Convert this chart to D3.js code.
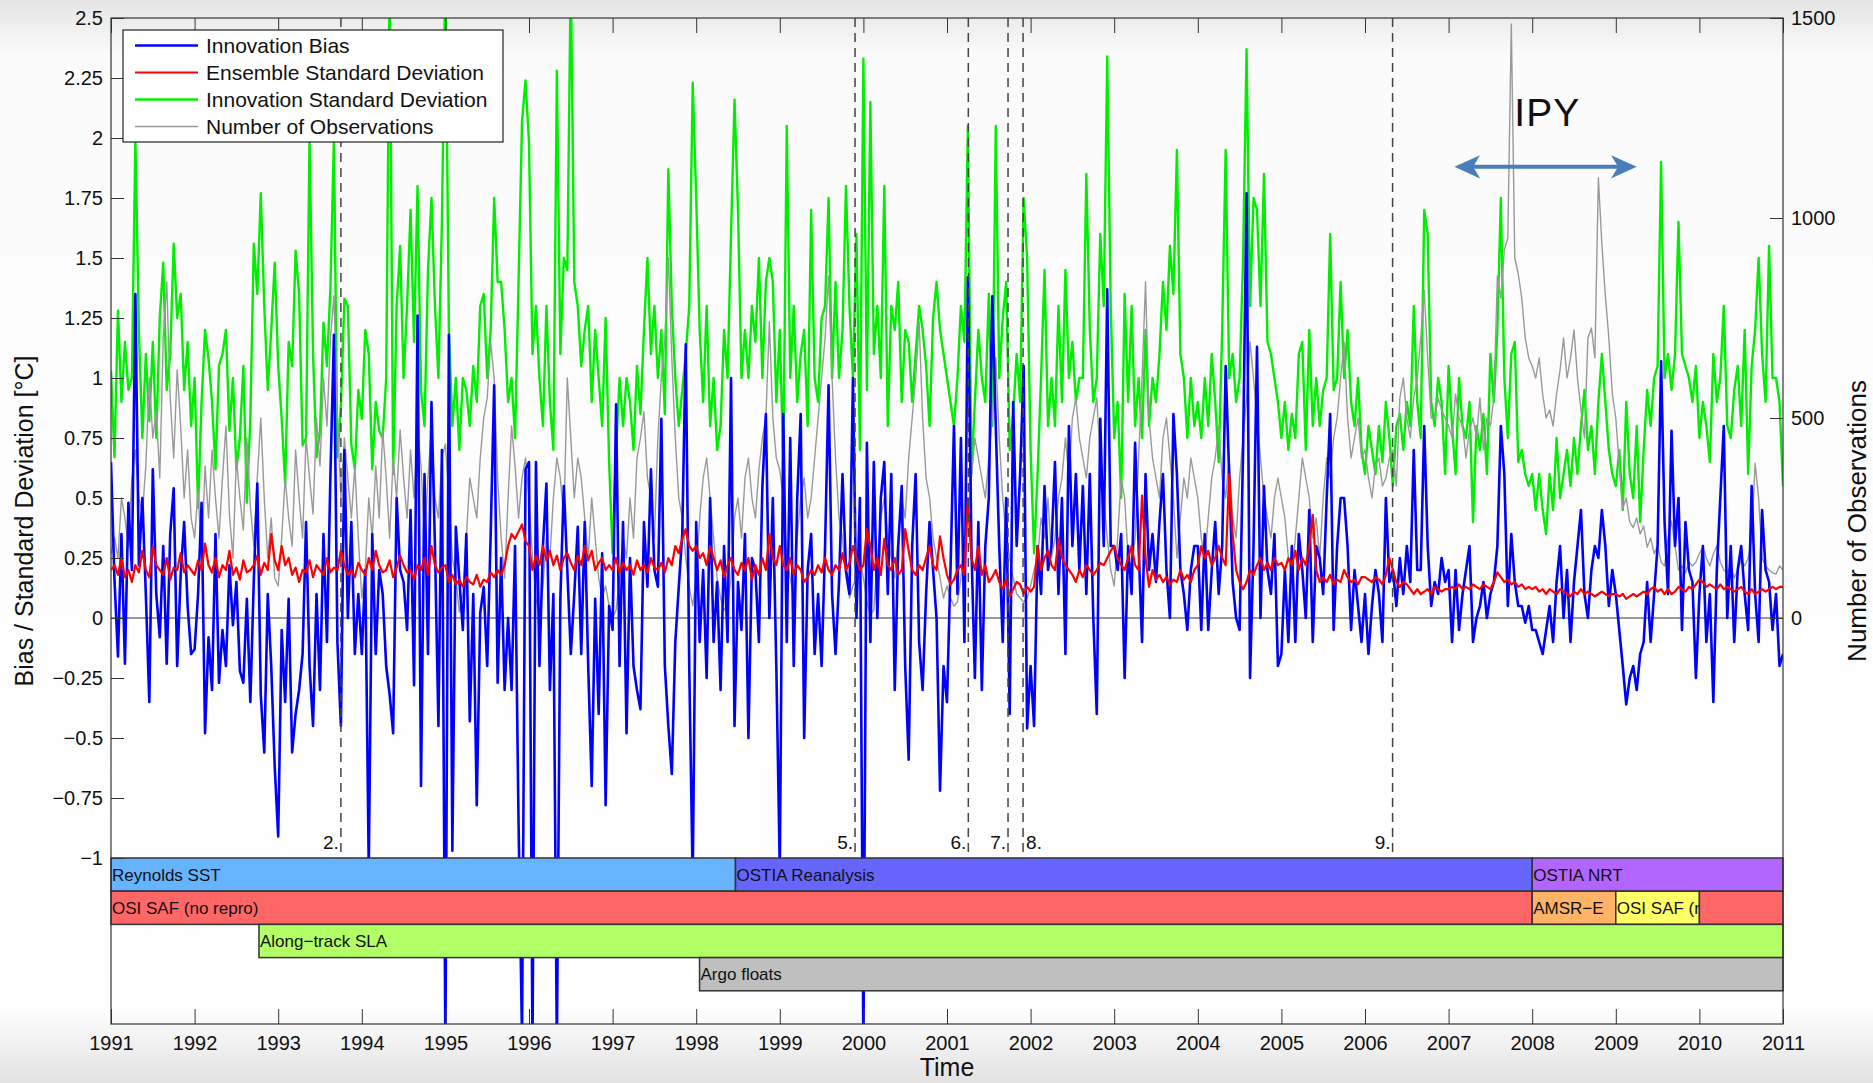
<!DOCTYPE html>
<meta charset="utf-8">
<style>
  body { margin: 0; }
  svg text { font-family: "Liberation Sans", Arial, sans-serif; fill: #111; }
</style>
<svg width="1873" height="1083"></svg>
<script src="https://cdnjs.cloudflare.com/ajax/libs/d3/7.8.5/d3.min.js"></script>
<script>

// samples every half month, from 1991.0 to 2011.0
var startYear = 1991, perYear = 24;

var bias = [
  0.65,0.16,-0.16,0.35,-0.19,0.48,0.2,1.35,0.22,0.5,0.1,-0.35,0.62,0.1,-0.08,0.3,-0.19,0.35,0.54,-0.2,0.18,0.4,0.05,-0.15,
  -0.13,0.1,0.48,-0.48,-0.08,-0.3,0.35,-0.27,-0.05,-0.2,0.22,-0.03,0.15,-0.22,-0.27,0.08,-0.35,0.16,0.56,-0.32,-0.56,0.1,-0.2,-0.62,
  -0.91,-0.05,-0.35,0.08,-0.56,-0.4,-0.3,-0.15,0.4,-0.2,-0.45,0.1,-0.3,0.35,-0.1,0.6,1.18,-0.1,-0.45,0.7,0.0,0.4,-0.15,0.1,
  -0.15,0.2,-1.05,0.35,-0.15,0.2,0.1,-0.2,-0.32,-0.48,0.5,0.2,0.15,-0.05,0.45,-0.28,1.26,-0.7,0.6,-0.15,0.9,0.3,-0.45,0.7,
  -1.8,1.18,-0.97,0.38,0.16,-0.05,0.35,-0.43,0.1,-0.78,0.02,0.13,-0.2,0.35,0.97,-0.27,0.25,-0.3,0.0,-0.3,0.3,-0.85,-1.75,0.62,
  0.65,-1.8,0.65,-0.2,0.3,0.56,-0.3,0.1,-1.8,0.08,0.55,0.2,-0.15,0.1,0.38,-0.15,0.4,-0.2,-0.7,0.08,-0.4,0.27,-0.78,0.05,
  -0.05,0.89,-0.2,0.4,-0.48,0.25,-0.2,-0.3,-0.38,0.4,0.13,0.62,0.2,0.13,0.83,-0.2,-0.45,-0.65,-0.1,0.13,0.35,1.14,-0.2,-1.1,
  0.4,-0.1,0.2,-0.25,0.5,-0.1,0.15,-0.3,0.3,-0.1,1.0,-0.45,0.15,-0.05,0.35,-0.5,0.25,0.2,-0.1,0.55,0.85,0.0,0.5,-0.2,
  -1.05,0.85,-0.1,0.75,-0.2,0.5,0.85,-0.5,0.2,0.35,-0.15,0.1,-0.2,0.3,0.97,0.1,-0.15,0.15,0.6,0.2,0.1,1.0,0.0,0.5,
  -1.8,0.73,-0.1,0.65,0.0,0.5,0.65,0.1,0.6,-0.3,0.3,0.55,-0.2,-0.59,0.3,0.6,-0.1,-0.3,0.1,0.4,0.2,0.0,-0.72,-0.2,
  -0.35,0.2,0.8,0.1,0.75,-0.1,1.42,0.3,-0.25,0.4,-0.3,0.3,0.5,1.34,0.8,0.3,-0.1,0.5,-0.4,0.9,0.3,0.6,1.05,-0.46,
  -0.2,-0.45,0.3,0.1,0.55,0.2,0.3,0.65,0.1,0.5,-0.15,0.8,0.3,0.6,0.2,0.55,0.1,0.6,0.0,-0.4,0.83,0.3,1.37,0.3,
  0.3,0.2,0.35,-0.25,0.3,0.1,0.73,0.3,-0.1,0.6,0.2,0.35,0.15,0.4,0.6,0.2,0.0,0.85,0.6,0.2,0.1,-0.05,0.2,0.3,
  0.3,-0.05,0.35,-0.05,0.2,0.4,0.1,0.3,1.05,0.6,0.15,0.0,-0.05,0.7,1.77,-0.25,0.3,1.13,0.0,0.55,0.2,0.1,0.35,-0.2,
  -0.15,0.2,-0.1,0.3,-0.1,0.35,0.2,0.0,0.45,-0.1,0.3,0.25,0.1,0.5,0.85,-0.05,0.3,0.5,0.5,0.3,-0.05,0.2,0.05,-0.1,
  0.1,-0.15,0.05,0.2,0.1,-0.1,0.5,0.15,0.2,0.05,0.25,0.1,0.3,0.15,0.7,0.2,0.2,0.8,0.3,0.05,0.15,0.1,0.25,0.15,
  0.2,-0.1,0.2,-0.05,0.1,0.2,0.3,-0.1,0.0,0.05,0.15,0.0,0.1,0.15,0.3,0.8,0.6,0.05,0.35,0.15,0.05,0.05,-0.02,0.05,
  -0.05,-0.05,-0.1,-0.15,-0.05,0.05,-0.1,0.15,0.3,0.0,0.2,-0.1,0.15,0.3,0.45,0.1,0.0,0.2,0.3,0.25,0.45,0.3,0.05,0.2,
  0.1,-0.05,-0.2,-0.36,-0.25,-0.2,-0.3,-0.15,-0.1,0.15,-0.1,0.1,0.3,1.07,0.4,0.1,0.78,0.3,0.5,-0.05,0.4,0.2,0.15,-0.25,
  0.1,0.3,-0.1,0.1,-0.35,0.2,0.5,0.8,0.0,0.3,-0.1,0.2,0.3,0.1,-0.05,0.55,0.1,-0.1,0.45,0.2,0.15,-0.05,0.1,-0.2,
  -0.15
];

var ensembleSd = [
  0.2,0.22,0.18,0.25,0.17,0.2,0.15,0.22,0.19,0.28,0.2,0.17,0.3,0.22,0.2,0.18,0.25,0.16,0.21,0.2,0.27,0.19,0.22,0.2,
  0.18,0.24,0.2,0.31,0.22,0.19,0.25,0.17,0.22,0.2,0.28,0.18,0.21,0.16,0.24,0.19,0.2,0.22,0.26,0.18,0.23,0.2,0.35,0.24,
  0.2,0.3,0.22,0.25,0.18,0.21,0.15,0.2,0.19,0.24,0.17,0.22,0.2,0.18,0.25,0.19,0.21,0.2,0.28,0.22,0.18,0.2,0.17,0.23,
  0.2,0.18,0.25,0.2,0.28,0.22,0.19,0.2,0.24,0.17,0.21,0.26,0.22,0.19,0.2,0.16,0.22,0.2,0.25,0.18,0.3,0.22,0.19,0.21,
  0.22,0.15,0.18,0.14,0.16,0.13,0.17,0.15,0.14,0.18,0.13,0.16,0.15,0.19,0.17,0.2,0.18,0.22,0.3,0.35,0.33,0.36,0.39,0.32,
  0.3,0.2,0.26,0.22,0.3,0.24,0.28,0.22,0.26,0.2,0.25,0.27,0.23,0.2,0.26,0.22,0.3,0.24,0.28,0.2,0.23,0.25,0.2,0.22,
  0.2,0.25,0.19,0.23,0.2,0.22,0.18,0.24,0.2,0.22,0.19,0.25,0.21,0.2,0.23,0.19,0.25,0.22,0.3,0.27,0.33,0.37,0.3,0.28,
  0.3,0.25,0.27,0.22,0.3,0.25,0.2,0.24,0.17,0.22,0.25,0.2,0.18,0.23,0.2,0.25,0.16,0.22,0.18,0.25,0.2,0.35,0.25,0.22,
  0.3,0.22,0.2,0.25,0.18,0.22,0.2,0.15,0.17,0.2,0.18,0.22,0.19,0.25,0.2,0.18,0.22,0.2,0.27,0.2,0.23,0.3,0.25,0.2,
  0.22,0.37,0.3,0.2,0.25,0.18,0.33,0.22,0.2,0.25,0.18,0.2,0.37,0.28,0.2,0.18,0.22,0.2,0.25,0.3,0.22,0.2,0.34,0.25,
  0.18,0.14,0.16,0.2,0.22,0.18,0.5,0.25,0.2,0.3,0.18,0.22,0.15,0.17,0.2,0.15,0.12,0.16,0.09,0.12,0.15,0.14,0.1,0.13,
  0.11,0.13,0.3,0.2,0.25,0.28,0.22,0.2,0.33,0.25,0.22,0.2,0.18,0.15,0.2,0.17,0.22,0.2,0.18,0.2,0.23,0.22,0.25,0.28,
  0.3,0.25,0.22,0.2,0.25,0.3,0.22,0.2,0.51,0.25,0.13,0.2,0.16,0.18,0.15,0.17,0.14,0.16,0.15,0.2,0.16,0.18,0.15,0.2,
  0.22,0.3,0.25,0.28,0.22,0.25,0.3,0.25,0.22,0.6,0.35,0.2,0.15,0.12,0.15,0.2,0.18,0.22,0.25,0.2,0.23,0.2,0.25,0.22,
  0.23,0.2,0.25,0.22,0.28,0.2,0.25,0.22,0.3,0.43,0.2,0.15,0.17,0.15,0.18,0.14,0.16,0.15,0.2,0.17,0.15,0.16,0.14,0.17,
  0.17,0.16,0.15,0.17,0.16,0.14,0.18,0.25,0.2,0.15,0.13,0.15,0.14,0.12,0.1,0.12,0.1,0.11,0.12,0.1,0.13,0.12,0.11,0.12,
  0.12,0.13,0.12,0.14,0.12,0.13,0.12,0.14,0.13,0.12,0.14,0.13,0.12,0.15,0.19,0.17,0.15,0.16,0.14,0.15,0.13,0.14,0.12,0.13,
  0.12,0.13,0.11,0.12,0.1,0.12,0.11,0.1,0.12,0.11,0.1,0.09,0.11,0.1,0.12,0.1,0.11,0.1,0.09,0.1,0.11,0.1,0.09,0.1,
  0.1,0.09,0.1,0.08,0.09,0.1,0.09,0.1,0.11,0.1,0.12,0.13,0.11,0.12,0.1,0.12,0.1,0.11,0.13,0.12,0.11,0.13,0.12,0.14,
  0.16,0.15,0.13,0.14,0.13,0.12,0.14,0.12,0.13,0.12,0.11,0.12,0.13,0.11,0.1,0.12,0.1,0.11,0.12,0.11,0.12,0.13,0.12,0.13,
  0.13
];

var innovationSd = [
  1.03,0.67,1.28,0.9,1.15,0.95,1.0,2.0,1.2,0.75,1.1,0.82,1.15,0.75,1.25,1.48,0.95,1.1,1.56,1.25,1.35,0.95,1.15,0.8,
  1.0,0.46,0.9,1.2,1.08,0.9,0.62,1.05,1.1,1.2,0.78,1.0,0.62,0.75,1.05,0.48,0.83,1.56,1.35,1.77,1.3,0.95,1.2,1.48,
  1.05,0.83,0.56,1.15,1.05,1.53,1.35,0.72,0.75,2.0,1.1,0.67,0.78,1.23,1.05,1.38,2.0,0.67,0.88,1.33,1.3,0.72,0.62,0.95,
  0.83,1.2,1.1,0.62,0.9,0.78,0.75,1.0,2.7,0.6,1.3,1.55,1.0,1.3,1.7,1.15,1.8,0.95,0.8,1.45,1.75,1.3,1.0,1.65,
  2.7,1.2,0.8,1.0,0.7,1.0,0.95,0.8,1.05,0.9,1.3,1.35,1.0,1.2,1.75,1.4,1.4,1.2,0.9,1.0,0.75,1.4,2.07,2.24,
  1.98,1.1,1.3,1.0,0.8,1.3,0.9,0.7,2.28,1.1,1.5,1.45,2.7,1.4,1.3,1.05,1.2,1.3,0.9,1.2,1.0,0.8,1.25,0.65,
  0.27,0.7,1.0,0.8,1.0,0.9,0.7,1.05,0.85,1.2,1.5,1.1,1.3,1.0,1.2,0.85,1.87,1.3,1.0,0.8,0.95,1.1,1.3,2.23,
  1.75,1.2,0.9,1.3,0.8,1.0,0.7,0.8,1.2,1.0,1.6,2.16,1.7,1.0,1.2,1.0,1.3,1.15,1.5,1.0,1.4,1.5,1.4,0.9,
  1.2,0.65,2.05,1.0,1.3,0.9,1.1,1.2,0.8,1.7,1.0,0.9,1.25,1.3,1.75,1.0,1.4,1.0,1.2,1.8,1.3,1.0,1.6,0.7,
  2.33,0.95,2.15,1.1,1.3,1.0,1.8,0.8,1.3,1.2,1.4,0.9,1.2,1.15,0.9,1.1,1.3,1.2,1.05,0.8,1.25,1.4,1.2,1.1,
  1.0,0.9,0.8,1.0,1.3,1.15,2.05,0.6,0.9,1.2,1.0,0.9,1.35,0.8,2.05,1.0,1.25,1.4,0.7,0.85,1.1,0.9,1.75,1.5,
  0.7,0.27,0.6,1.0,1.45,0.8,1.0,0.8,1.3,0.9,1.45,1.0,1.15,0.9,1.0,1.0,1.85,1.2,0.9,1.0,1.6,1.3,2.34,1.3,
  0.75,0.9,0.5,1.35,0.9,1.3,0.8,1.0,0.75,1.2,0.8,1.0,0.9,1.1,1.4,1.2,1.55,1.35,1.95,1.1,1.0,0.75,1.0,0.8,
  0.9,0.75,1.0,0.8,1.1,0.9,0.65,1.2,1.95,1.0,1.1,0.9,1.0,1.5,2.37,1.3,1.75,1.7,1.3,1.85,1.15,1.1,1.0,0.9,
  0.75,0.9,0.7,0.85,0.75,1.1,1.15,0.7,1.2,0.8,1.0,0.8,0.95,1.0,1.6,0.95,1.0,1.4,1.0,1.2,0.9,0.8,1.0,0.7,
  0.6,0.8,0.7,0.6,0.8,0.65,0.9,0.75,0.55,0.8,0.85,0.7,0.9,0.8,1.3,0.9,0.75,1.7,1.6,0.9,0.8,1.0,0.9,0.6,
  1.05,0.8,0.6,1.0,0.8,0.75,0.9,0.4,0.8,0.7,0.85,0.6,1.1,0.9,1.2,1.75,1.0,0.75,1.1,1.15,0.65,0.7,0.6,0.55,
  0.6,0.45,0.6,0.45,0.35,0.6,0.45,0.75,0.5,0.6,0.7,0.55,0.75,0.6,0.8,0.95,0.7,0.8,0.6,0.9,1.1,0.9,0.7,0.6,
  0.55,0.7,0.45,0.9,0.6,0.5,0.8,0.4,0.7,0.95,0.8,1.0,1.05,1.9,1.0,1.1,0.95,1.1,1.65,1.1,1.05,1.0,0.9,1.05,
  0.75,0.9,0.8,0.65,1.1,0.9,1.0,1.3,0.8,0.75,0.95,1.05,0.8,1.2,0.6,1.05,1.2,1.5,1.1,0.9,1.55,1.0,1.0,0.9,
  0.55
];

var numObs = [
  160,200,150,300,250,180,350,420,300,260,380,600,450,520,350,700,840,550,400,620,480,300,420,250,
  200,320,150,380,250,420,300,200,350,480,260,150,400,300,220,450,280,180,350,500,300,150,250,100,
  80,200,350,250,180,420,300,200,450,350,260,500,380,600,480,700,806,500,300,450,350,250,380,200,
  50,120,300,200,380,250,470,350,200,400,300,470,350,250,420,300,470,380,200,350,480,300,250,400,
  435,300,150,100,15,60,200,350,300,250,400,500,550,690,600,350,200,100,300,480,380,250,350,400,
  300,150,50,0,80,200,150,300,400,350,250,600,450,300,400,350,250,150,300,200,100,50,80,30,
  0,20,100,200,150,300,200,400,450,516,350,300,200,450,600,700,900,650,450,300,250,150,80,30,
  100,250,350,400,300,200,100,50,20,30,100,250,300,200,350,400,300,250,370,450,500,740,500,400,
  370,300,150,100,50,200,300,350,250,300,400,500,600,700,855,600,400,250,200,100,50,80,100,150,
  100,40,10,20,150,250,300,200,150,100,200,300,250,400,500,600,740,500,350,300,200,150,100,50,
  80,50,30,40,100,200,250,350,450,400,350,300,400,500,650,450,300,200,150,100,60,50,40,50,
  80,120,150,250,200,300,150,200,300,350,450,350,500,550,450,400,350,450,500,550,400,300,200,120,
  80,200,350,300,150,120,200,400,600,840,500,400,350,300,450,500,400,300,150,250,350,300,400,350,
  300,200,150,250,350,400,480,350,300,400,250,200,350,450,550,690,600,500,400,300,250,200,300,350,
  300,250,150,100,200,300,400,350,300,200,250,150,300,400,350,450,500,600,690,500,400,450,500,400,
  420,350,300,380,400,330,350,400,420,330,550,600,500,450,550,600,700,820,650,500,500,550,520,500,
  480,450,560,500,480,400,470,500,450,550,420,500,480,550,855,800,920,950,1485,900,860,800,700,650,
  630,600,650,560,500,520,480,560,620,700,600,650,720,600,520,450,700,725,650,1100,935,806,700,560,
  500,380,274,300,240,226,250,210,230,177,200,161,180,140,130,200,242,180,120,130,113,140,130,140,
  161,177,150,130,160,180,140,120,113,130,100,120,145,130,150,200,387,300,150,130,120,113,110,130,
  120
];

var yearTicks = [1991,1992,1993,1994,1995,1996,1997,1998,1999,2000,2001,2002,2003,2004,2005,2006,2007,2008,2009,2010,2011];
var leftTicks = [2.5,2.25,2,1.75,1.5,1.25,1,0.75,0.5,0.25,0,-0.25,-0.5,-0.75,-1];
var rightTicks = [0,500,1000,1500];

var seriesNames = ["Innovation Bias","Ensemble Standard Deviation","Innovation Standard Deviation","Number of Observations"];

// numbered events (dashed lines); side: label left or right of its line
var eventLabels = ["2.","5.","6.","7.","8.","9."];
var eventYears = [1993.75,1999.9,2001.255,2001.73,2001.91,2006.33];
var eventSide = ["left","left","left","left","right","left"];

// data sources shown as bars under the plot
var sourceNames = ["Reynolds SST","OSTIA Reanalysis","OSTIA NRT","OSI SAF (no repro)","AMSR\u2212E","OSI SAF (repro)","","Along\u2212track SLA","Argo floats"];
var sourceStart = [1991,1998.47,2008.0,1991,2008.0,2009.0,2010.0,1992.77,1998.04];
var sourceEnd   = [1998.47,2008.0,2011,2008.0,2009.0,2010.0,2011,2011,2011];
var sourceRow   = [0,0,0,1,1,1,1,2,3];

var ipyStart = 2007.03, ipyEnd = 2009.29;

var svg = d3.select("svg"),
    W = +svg.attr("width"), H = +svg.attr("height");
var pLeft = 111, pRight = 1783, pTop = 18, pBottom = 1024;

var x = d3.scaleLinear().domain([1991, 2011]).range([pLeft, pRight]);
var y = d3.scaleLinear().domain([-1, 2.5]).range([858, pTop]);
var yR = d3.scaleLinear().domain([0, 1500]).range([y(0), y(2.5)]);
var rowH = (pBottom - y(-1)) / 5;

var colors = {bias: "#0000ff", ens: "#ff0000", innov: "#00ee00", obs: "#999999"};
var barColors = ["#66b3ff","#6666ff","#b366ff","#ff6666","#ffb366","#ffff66","#ff6666","#b3ff66","#bfbfbf"];

// slide-like background
var defs = svg.append("defs");
var bg = defs.append("linearGradient").attr("id","bg").attr("x1",0).attr("x2",0).attr("y1",0).attr("y2",1);
bg.append("stop").attr("offset","0").attr("stop-color","#e4e4e4");
bg.append("stop").attr("offset","0.05").attr("stop-color","#fbfbfb");
bg.append("stop").attr("offset","0.93").attr("stop-color","#ffffff");
bg.append("stop").attr("offset","1").attr("stop-color","#e2e2e2");
svg.append("rect").attr("width", W).attr("height", H).attr("fill","url(#bg)");

defs.append("clipPath").attr("id","plotclip").append("rect")
    .attr("x", pLeft).attr("y", pTop).attr("width", pRight - pLeft).attr("height", pBottom - pTop);

var tYear = function(i) { return startYear + i / perYear; };
var lineL = d3.line().x(function(d, i) { return x(tYear(i)); }).y(function(d) { return y(d); });
var lineR = d3.line().x(function(d, i) { return x(tYear(i)); }).y(function(d) { return yR(d); });

var g = svg.append("g").attr("clip-path","url(#plotclip)");

g.append("line").attr("x1", pLeft).attr("x2", pRight).attr("y1", y(0)).attr("y2", y(0))
    .attr("stroke","#333").attr("stroke-width",1);

g.append("path").datum(innovationSd).attr("d", lineL).attr("fill","none")
    .attr("stroke", colors.innov).attr("stroke-width",2.4).attr("stroke-linejoin","round");
g.append("path").datum(numObs).attr("d", lineR).attr("fill","none")
    .attr("stroke", colors.obs).attr("stroke-width",1.4).attr("stroke-linejoin","round");
g.append("path").datum(bias).attr("d", lineL).attr("fill","none")
    .attr("stroke", colors.bias).attr("stroke-width",2.6).attr("stroke-linejoin","round");
g.append("path").datum(ensembleSd).attr("d", lineL).attr("fill","none")
    .attr("stroke", colors.ens).attr("stroke-width",2.2).attr("stroke-linejoin","round");

// event lines
var ev = svg.append("g");
ev.selectAll("line").data(eventYears).enter().append("line")
    .attr("x1", function(d) { return x(d); }).attr("x2", function(d) { return x(d); })
    .attr("y1", pTop).attr("y2", y(-1))
    .attr("stroke","#444").attr("stroke-width",1.5).attr("stroke-dasharray","9,6");
ev.selectAll("text").data(eventYears).enter().append("text")
    .attr("x", function(d, i) { return eventSide[i] == "right" ? x(d) + 3 : x(d) - 2; })
    .attr("y", y(-1) - 9)
    .attr("text-anchor", function(d, i) { return eventSide[i] == "right" ? "start" : "end"; })
    .style("font-size","19px")
    .text(function(d, i) { return eventLabels[i]; });

// source bars
var bars = svg.append("g");
sourceNames.forEach(function(name, i) {
  var x0 = x(sourceStart[i]), x1 = x(sourceEnd[i]), yy = y(-1) + sourceRow[i] * rowH;
  defs.append("clipPath").attr("id","bc" + i).append("rect")
      .attr("x", x0).attr("y", yy).attr("width", x1 - x0).attr("height", rowH);
  bars.append("rect").attr("x", x0).attr("y", yy).attr("width", x1 - x0).attr("height", rowH)
      .attr("fill", barColors[i]).attr("stroke","#333").attr("stroke-width",1.5);
  bars.append("text").attr("x", x0 + 1).attr("y", yy + rowH / 2).attr("dy","0.36em")
      .attr("clip-path","url(#bc" + i + ")").style("font-size","17px").text(name);
});

// axes
var tickCol = "#333";
var xb = svg.append("g").attr("transform","translate(0," + pBottom + ")")
    .call(d3.axisBottom(x).tickValues(yearTicks).tickFormat(d3.format("d"))
      .tickSizeInner(-15).tickSizeOuter(0).tickPadding(12));
var xt = svg.append("g").attr("transform","translate(0," + pTop + ")")
    .call(d3.axisTop(x).tickValues(yearTicks).tickFormat("").tickSizeInner(-15).tickSizeOuter(0));
var yl = svg.append("g").attr("transform","translate(" + pLeft + ",0)")
    .call(d3.axisLeft(y).tickValues(leftTicks).tickFormat(d3.format("~g"))
      .tickSizeInner(-13).tickSizeOuter(0).tickPadding(8));
var yr = svg.append("g").attr("transform","translate(" + pRight + ",0)")
    .call(d3.axisRight(yR).tickValues(rightTicks).tickFormat(d3.format("d"))
      .tickSizeInner(-13).tickSizeOuter(0).tickPadding(8));
[xb, xt, yl, yr].forEach(function(a) {
  a.select(".domain").remove();
  a.selectAll(".tick line").attr("stroke", tickCol);
  a.selectAll("text").style("font-size","20px").style("font-family","Liberation Sans, Arial, sans-serif").attr("fill","#111");
});

svg.append("rect").attr("x", pLeft).attr("y", pTop).attr("width", pRight - pLeft).attr("height", pBottom - pTop)
    .attr("fill","none").attr("stroke","#333").attr("stroke-width",1.2);

svg.append("text").attr("transform","translate(33," + ((pTop + pBottom) / 2) + ") rotate(-90)")
    .attr("text-anchor","middle").style("font-size","25px").text("Bias / Standard Deviation [\u00b0C]");
svg.append("text").attr("transform","translate(1866," + ((pTop + pBottom) / 2) + ") rotate(-90)")
    .attr("text-anchor","middle").style("font-size","26px").text("Number of Observations");
svg.append("text").attr("x", x(2001)).attr("y", 1076)
    .attr("text-anchor","middle").style("font-size","25px").text("Time");

// legend
var lg = svg.append("g").attr("transform","translate(123,30)");
lg.append("rect").attr("width",380).attr("height",112).attr("fill","#fff")
    .attr("stroke","#222").attr("stroke-width",1.2);
var legCols = [colors.bias, colors.ens, colors.innov, colors.obs];
var legW = [2.6, 2.2, 2.4, 1.4];
seriesNames.forEach(function(name, i) {
  var ly = 15.5 + i * 27;
  lg.append("line").attr("x1",12).attr("x2",75).attr("y1",ly).attr("y2",ly)
      .attr("stroke", legCols[i]).attr("stroke-width", legW[i]);
  lg.append("text").attr("x",83).attr("y",ly).attr("dy","0.36em")
      .style("font-size","21px").text(name);
});

// IPY annotation
defs.append("marker").attr("id","ah").attr("viewBox","0 0 12 12").attr("refX",9).attr("refY",6)
    .attr("markerWidth",7).attr("markerHeight",7).attr("orient","auto-start-reverse")
    .attr("markerUnits","strokeWidth")
    .append("path").attr("d","M0,1 L11,6 L0,11 L3,6 Z").attr("fill","#4a7ebb");
svg.append("line").attr("x1", x(ipyStart) + 8).attr("x2", x(ipyEnd) - 8)
    .attr("y1", y(1.88)).attr("y2", y(1.88))
    .attr("stroke","#4a7ebb").attr("stroke-width",4)
    .attr("marker-start","url(#ah)").attr("marker-end","url(#ah)");
svg.append("text").attr("x", x(2008.18)).attr("y", y(2.05))
    .attr("text-anchor","middle").style("font-size","39px").style("letter-spacing","1px").text("IPY");

</script>
